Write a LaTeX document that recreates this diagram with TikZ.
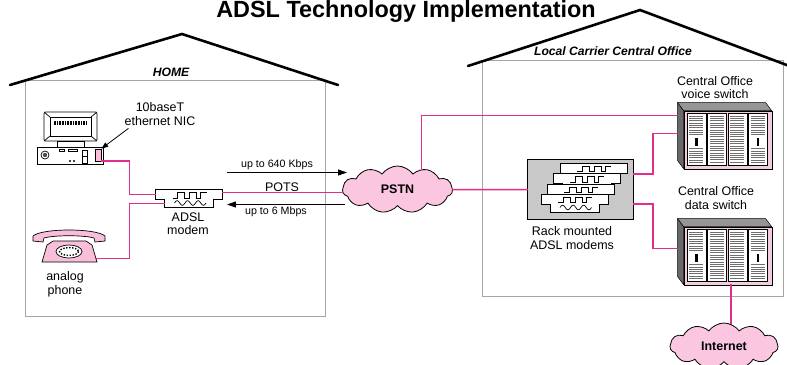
\documentclass[tikz,border=0pt]{standalone}
\usepackage{fontspec}
\setmainfont{Liberation Sans}
\usetikzlibrary{shapes.symbols,arrows.meta,calc}

\definecolor{wire}{RGB}{225,45,140}
\definecolor{cloudfill}{RGB}{250,198,224}
\definecolor{phonefill}{RGB}{248,190,218}
\definecolor{wallgray}{RGB}{165,165,165}
\definecolor{rackgray}{RGB}{200,200,200}
\definecolor{cabside}{RGB}{105,105,105}
\definecolor{cabtop}{RGB}{150,150,150}
\definecolor{cabframe}{RGB}{242,205,224}
\definecolor{ventgray}{RGB}{110,110,110}

\tikzset{
  wall/.style={draw=wallgray,line width=0.9pt},
  roof/.style={draw=black,line width=2.6pt,line cap=round},
  wireline/.style={draw=wire,line width=1.5bp,line cap=rect},
  rate/.style={draw=black,line width=0.9pt,-{Triangle[length=9pt,width=6pt]}},
  pointer/.style={draw=black,line width=0.8pt,-{Triangle[length=7pt,width=5pt]}},
  dev/.style={draw=black,line width=0.7pt},
  vent/.style={draw=ventgray,line width=0.6pt},
  lbl/.style={font=\fontsize{12.5}{15}\selectfont,anchor=base,inner sep=0},
  smalllbl/.style={font=\fontsize{10.7}{13}\selectfont,anchor=base,inner sep=0},
  hdr/.style={font=\fontsize{12.2}{15}\selectfont\bfseries\itshape,anchor=base,inner sep=0},
  netcloud/.style={cloud,cloud puffs=11,cloud puff arc=110,aspect=2.4,draw=black,
    line width=0.8pt,fill=cloudfill,inner sep=0,font=\fontsize{12.5}{15}\selectfont\bfseries},
  rackbox/.style={rectangle,draw=black,line width=0.6pt,fill=rackgray,inner sep=0,
    minimum width=106bp,minimum height=60bp},
  cabface/.style={rectangle,anchor=north west,minimum width=88bp,minimum height=58bp,
    inner sep=0,fill=cabframe,draw=black,line width=0.6pt},
  nicslot/.style={rectangle,draw=black,line width=0.6pt,fill=phonefill,inner sep=0,
    minimum width=6bp,minimum height=12bp},
  % a modem card: wide upper body, narrower lower body, square wave (and sine wave if #1>0)
  pics/modemcard/.style={code={
    \draw[dev,fill=white] (0,0) -- (67,0) -- (67,10) -- (58,10) -- (58,18) -- (9,18)
      -- (9,10) -- (0,10) -- cycle;
    \path (33.5,5) node[inner sep=0,minimum width=67bp,minimum height=10bp] (-body) {};
    \path (33.5,14) node[inner sep=0,minimum width=49bp,minimum height=8bp] (-low) {};
    \draw[line width=0.7pt] (17,8.5) -- (22,8.5) -- (22,3) -- (29,3) -- (29,8.5) -- (34,8.5)
      -- (34,3) -- (41,3) -- (41,8.5) -- (45,8.5) -- (45,3) -- (51,3);
    \ifnum#1>0
      \draw[line width=0.7pt] plot[domain=0:3,samples=60,smooth]
        ({19+\x*10.5},{13.5-2.3*sin(\x*360)});
    \fi
  }},
  % a switch cabinet: shaded side and top, pink front with four vented doors
  pics/cabinet/.style={code={
    \filldraw[fill=cabside,draw=black,line width=0.5pt] (-6,-8) -- (0,0) -- (0,58) -- (-6,50) -- cycle;
    \filldraw[fill=cabtop,draw=black,line width=0.5pt] (-6,-8) -- (82,-8) -- (88,0) -- (0,0) -- cycle;
    \node[cabface] (-box) at (0,0) {};
    \foreach \i/\h in {0/1,1/0,2/0,3/1}{
      \begin{scope}[shift={(3.4+\i*20.5,3)}]
        \draw[fill=white,line width=0.5pt] (0,0) rectangle (19,52);
        \ifnum\h=1
          \foreach \y in {2.5,4.8,...,22} \draw[vent] (2.5,\y) -- (16.5,\y);
          \foreach \y in {35,37.3,...,50} \draw[vent] (2.5,\y) -- (16.5,\y);
          \fill (8.3,24) rectangle (10.7,32.5);
        \else
          \foreach \y in {2.5,4.8,...,50} \draw[vent] (2.5,\y) -- (16.5,\y);
        \fi
      \end{scope}
    }
  }},
}

\begin{document}
\begin{tikzpicture}[x=1bp,y=-1bp]
\useasboundingbox (0,0) rectangle (787,364);

% title
\node[font=\fontsize{23.5}{26}\selectfont\bfseries,anchor=base,inner sep=0] (title) at (406,17.5)
  {ADSL Technology Implementation};

% ---------- buildings ----------
\draw[wall] (25.5,80.5) rectangle (325.5,316.5);
\draw[wall] (482.5,60.5) rectangle (783.5,296.5);
\draw[roof] (10,85) -- (182,34) -- (338,85);
\node[hdr] (homelbl) at (171,76) {HOME};
\draw[roof] (468,66) -- (640,10) -- (800,70);
\node[hdr] (colbl) at (613,55) {Local Carrier Central Office};

% ---------- home equipment ----------
% computer
\draw[dev,rounded corners=1.5pt] (44,112) rectangle (97,141);
\draw[dev] (50,117) rectangle (91,136);
\draw[dev] (44,112) -- (50,117) (97,112) -- (91,117) (44,141) -- (50,136) (97,141) -- (91,136);
\foreach \t in {54,55.6,...,87} \draw[line width=0.5pt] (\t,121) -- (\t,124.5);
\draw[dev] (57,141) rectangle (84,147);
\node[rectangle,draw=black,line width=0.7pt,inner sep=0,minimum width=66bp,minimum height=17bp,
  fill=white] (pc) at (70,155.5) {};
\draw[dev] (45,155) circle (4);
\fill[black!70] (45,155) circle (2.2);
\draw[dev] (59,149) rectangle (64,151.5) (68,149) rectangle (77,151.5);
\fill (70,161) circle (1.1) (74,161) circle (1.1);
\draw[dev] (82,150) rectangle (87,163);
\draw[line width=0.5pt] (82,156.5) -- (87,156.5);
\node[nicslot] (nic) at (98,155) {};

\node[lbl] (nic1) at (160,111) {10baseT};
\node[lbl] (nic2) at (160,125) {ethernet NIC};
\draw[pointer] ($(nic2.south west)+(4,3)$) -- (nic.north east);

% telephone
\filldraw[dev,fill=phonefill] (42,262) -- (47,245) -- (53,241) -- (86,241) -- (92,245) -- (97,262) -- cycle;
\filldraw[dev,fill=phonefill] (33,241) -- (33,236) .. controls (42,228) and (96,228) .. (105,236)
  -- (105,241) -- (95,242) -- (94,238) .. controls (84,235) and (54,235) .. (44,238) -- (43,242) -- cycle;
\filldraw[dev,fill=white] (69,251.5) ellipse [x radius=13, y radius=6.5];
\draw[line width=1.4pt,dash pattern=on 1.4pt off 1.6pt] (69,251.5) ellipse [x radius=9.5, y radius=3.9];
\coordinate (phoneR) at (96.5,258.5);
\node[lbl] (ph1) at (65,280) {analog};
\node[lbl] (ph2) at (65,294) {phone};

% ADSL modem
\pic (modem) at (155.5,189.5) {modemcard=1};
\node[lbl] (mod1) at (188,221) {ADSL};
\node[lbl] (mod2) at (188,234) {modem};

% ---------- central office equipment ----------
\node[lbl] (vs1) at (715,85) {Central Office};
\node[lbl] (vs2) at (715,98) {voice switch};
\pic (vsw) at (683.5,110.5) {cabinet};

\node[lbl] (ds1) at (716,195) {Central Office};
\node[lbl] (ds2) at (716,209) {data switch};
\pic (dsw) at (683.5,226.5) {cabinet};

\node[rackbox] (rack) at (580.5,189.5) {};
\pic (card4) at (560,163) {modemcard=0};
\pic (card3) at (553,173.5) {modemcard=0};
\pic (card2) at (547,184) {modemcard=0};
\pic (card1) at (541,194) {modemcard=1};
\node[lbl] (rk1) at (572,235) {Rack mounted};
\node[lbl] (rk2) at (572,249) {ADSL modems};

% PSTN cloud
\node[netcloud,minimum width=110bp,minimum height=47bp] (pstn) at (397.5,189.5) {PSTN};
\coordinate (inetc) at (724,346);

% bends of the wires
\coordinate (nicbend) at ($(modem-body.west)+(-26,0)$);
\coordinate (phbend) at ($(modem-low.west)+(-35,0)$);
\coordinate (vbend) at (pstn.40 |- {$(vsw-box.north west)+(0,5)$});

% ---------- wiring ----------
\draw[wireline] ($(nic.south east)+(0,-0.5)$) -| (nicbend);
\draw[wireline] (nicbend) -- (modem-body.west);
\draw[wireline] (modem-low.west) -- (phbend);
\draw[wireline] (phbend) -- (phbend |- phoneR);
\draw[wireline] (phbend |- phoneR) -- (phoneR);
\draw[wireline] ($(modem-body.east)+(0,-2)$) -- (pstn.west |- {$(modem-body.east)+(0,-2)$});
\draw[wireline] (pstn.40) -- (vbend);
\draw[wireline] (vbend) -- ($(vsw-box.north west)+(-6,5)$);
\draw[wireline] (pstn) -- (rack);
\draw[wireline] ($(rack.north east)+(0,15)$) -- ++(19,0) |- ($(vsw-box.north west)+(-6,23)$);
\draw[wireline] ($(rack.north east)+(0,45)$) -- ++(19,0) |- ($(dsw-box.north west)+(-6,22)$);
\draw[wireline] ($(dsw-box.south)+(3,0)$) -- (inetc -| {$(dsw-box.south)+(3,0)$});

% Internet cloud, drawn over the end of its wire
\node[netcloud,minimum width=108bp,minimum height=46bp] (inet) at (inetc) {Internet};

% line rates
\coordinate (upA) at (227,172.5);
\coordinate (upB) at (347,172.5);
\coordinate (dnA) at (345,204.5);
\coordinate (dnB) at (227,204.5);
\draw[rate] (upA) -- (upB);
\draw[rate] (dnA) -- (dnB);
\node[smalllbl] (uplbl) at (277,167) {up to 640 Kbps};
\node[lbl] (potslbl) at (282,191.5) {POTS};
\node[smalllbl] (dnlbl) at (276,214) {up to 6 Mbps};
\end{tikzpicture}
\end{document}
